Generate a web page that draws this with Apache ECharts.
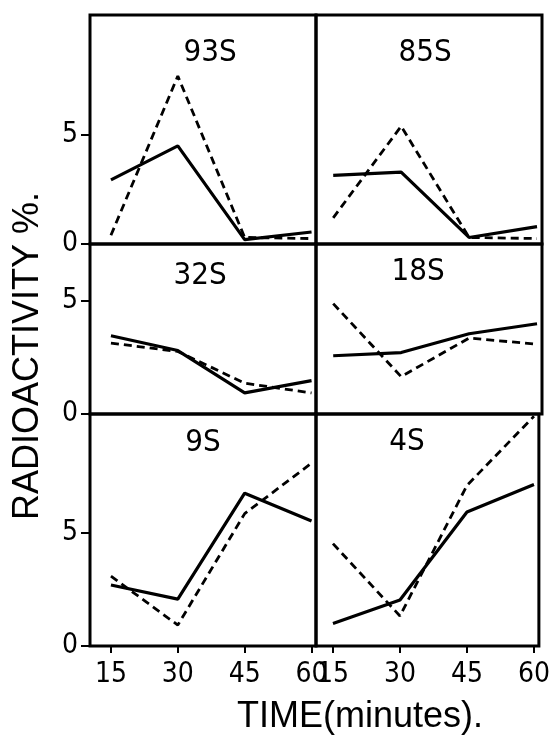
<!DOCTYPE html>
<html><head><meta charset="utf-8">
<script src="https://cdn.jsdelivr.net/npm/echarts@6/dist/echarts.min.js"></script>
<style>html,body{margin:0;padding:0;background:#fff}#c{width:553px;height:736px}</style>
</head><body><div id="c"></div>
<script>
const times = [15, 30, 45, 60];
const xTickLabels = [15, 30, 45, 60];
const yTickLabels = [0, 5];
const panelNames = ['93S', '85S', '32S', '18S', '9S', '4S'];
const s93_solid = [2.94, 4.5, 0.2, 0.55];
const s93_dashed = [0.4, 7.7, 0.3, 0.25];
const s85_solid = [3.15, 3.3, 0.3, 0.8];
const s85_dashed = [1.2, 5.4, 0.3, 0.25];
const s32_solid = [3.45, 2.8, 0.93, 1.47];
const s32_dashed = [3.13, 2.76, 1.36, 0.93];
const s18_solid = [2.57, 2.71, 3.54, 3.98];
const s18_dashed = [4.87, 1.65, 3.35, 3.08];
const s9_solid = [2.68, 2.06, 6.72, 5.5];
const s9_dashed = [3.07, 0.92, 5.82, 8.04];
const s4_solid = [0.99, 2.02, 5.89, 7.1];
const s4_dashed = [4.5, 1.32, 7.06, 10.1];
const solids = [s93_solid, s85_solid, s32_solid, s18_solid, s9_solid, s4_solid];
const dasheds = [s93_dashed, s85_dashed, s32_dashed, s18_dashed, s9_dashed, s4_dashed];
const rowMax = [10.5, 7.5, 10.2];

const FONT = '"Liberation Sans Narrow","DejaVu Sans Condensed","Liberation Sans",sans-serif';
const colL = 90, colM = 316, colR = 542;
const rowY = [15, 244, 414, 646];
const xMin = [10.3, 11.2], xMax = [61, 61.1];

const grids = [], xAxes = [], yAxes = [], series = [], graphics = [];
for (let i = 0; i < 6; i++) {
  const r = Math.floor(i / 2), c = i % 2;
  const left = c === 0 ? colL : colM;
  const width = c === 0 ? colM - colL : colR - colM;
  grids.push({left: left, top: rowY[r], width: width, height: rowY[r+1] - rowY[r],
    show: true, borderColor: '#000', borderWidth: 3, backgroundColor: 'transparent'});
  const bottom = r === 2;
  xAxes.push({type: 'value', gridIndex: i, min: xMin[c], max: xMax[c],
    axisLine: {show: false}, splitLine: {show: false},
    axisTick: {show: bottom, customValues: xTickLabels, length: 7, lineStyle: {color: '#000', width: 2}},
    axisLabel: {show: bottom, customValues: xTickLabels, fontSize: 28, fontFamily: FONT, color: '#000', margin: 15}});
  yAxes.push({type: 'value', gridIndex: i, min: 0, max: rowMax[r],
    axisLine: {show: false}, splitLine: {show: false},
    axisTick: {show: c === 0, customValues: yTickLabels, length: 9, lineStyle: {color: '#000', width: 2}},
    axisLabel: {show: c === 0, customValues: yTickLabels, fontSize: 28, fontFamily: FONT, color: '#000', margin: 12}});
  series.push({type: 'line', xAxisIndex: i, yAxisIndex: i, symbol: 'none', silent: true,
    data: times.map((t, k) => [t, solids[i][k]]),
    lineStyle: {color: '#000', width: 3.2, type: 'solid'}});
  series.push({type: 'line', xAxisIndex: i, yAxisIndex: i, symbol: 'none', silent: true,
    data: times.map((t, k) => [t, dasheds[i][k]]),
    lineStyle: {color: '#000', width: 2.8, type: [8, 5]}});
}
const titlePos = [[210, 53], [425, 53], [200, 276], [418, 272], [203, 443], [407, 442]];
panelNames.forEach((n, i) => {
  graphics.push({type: 'text', x: titlePos[i][0], y: titlePos[i][1],
    style: {text: n, fill: '#000', font: '31px ' + FONT, textAlign: 'center', textVerticalAlign: 'middle'}});
});
graphics.push({type: 'text', x: 28, y: 356, rotation: Math.PI / 2,
  style: {text: 'RADIOACTIVITY %.', fill: '#000', font: '36px "Liberation Sans","DejaVu Sans",sans-serif', textAlign: 'center', textVerticalAlign: 'middle'}});
graphics.push({type: 'text', x: 360, y: 717,
  style: {text: 'TIME(minutes).', fill: '#000', font: '36px "Liberation Sans","DejaVu Sans",sans-serif', textAlign: 'center', textVerticalAlign: 'middle'}});

const chart = echarts.init(document.getElementById('c'), null, {renderer: 'canvas'});
chart.setOption({animation: false, grid: grids, xAxis: xAxes, yAxis: yAxes, series: series, graphic: graphics});
</script></body></html>
